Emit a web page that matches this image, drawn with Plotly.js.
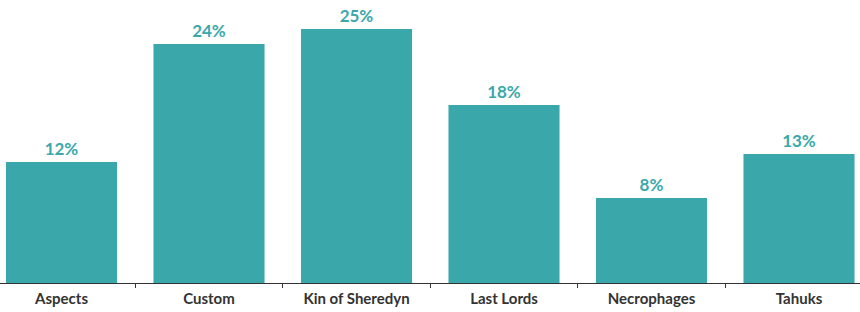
<!DOCTYPE html>
<html><head><meta charset="utf-8">
<script src="https://cdn.plot.ly/plotly-3.0.1.min.js"></script>
<style>html,body{margin:0;padding:0;background:#fff}#c{width:860px;height:312px}</style>
</head><body><div id="c"></div>
<script>
const categories = ["Aspects", "Custom", "Kin of Sheredyn", "Last Lords", "Necrophages", "Tahuks"];
const shares = [12.03, 23.76, 25.25, 17.69, 8.45, 12.82];

const teal = "#3aa8aa";
Plotly.newPlot("c", [{
  type: "bar",
  x: categories,
  y: shares,
  width: 0.753,
  marker: {color: teal},
  texttemplate: "%{y:.0f}%",
  textposition: "outside",
  cliponaxis: false,
  textfont: {family: "Lato, sans-serif", size: 17, color: teal, weight: 700},
  hoverinfo: "none"
}], {
  width: 860, height: 312,
  margin: {l: 0, r: 0, t: 0, b: 29},
  paper_bgcolor: "#fff", plot_bgcolor: "#fff",
  showlegend: false,
  xaxis: {
    type: "category",
    range: [-0.417, 5.4135],
    showline: true, linecolor: "#333", linewidth: 1,
    ticks: "outside", tickson: "boundaries", ticklen: 4, tickcolor: "#333",
    ticklabelstandoff: 2,
    tickfont: {family: "Lato, sans-serif", size: 15, color: "#333", weight: 700},
    showgrid: false, zeroline: false, fixedrange: true
  },
  yaxis: {
    range: [0, 28.13],
    visible: false, showgrid: false, zeroline: false, fixedrange: true
  }
}, {displayModeBar: false, staticPlot: true});
</script></body></html>
